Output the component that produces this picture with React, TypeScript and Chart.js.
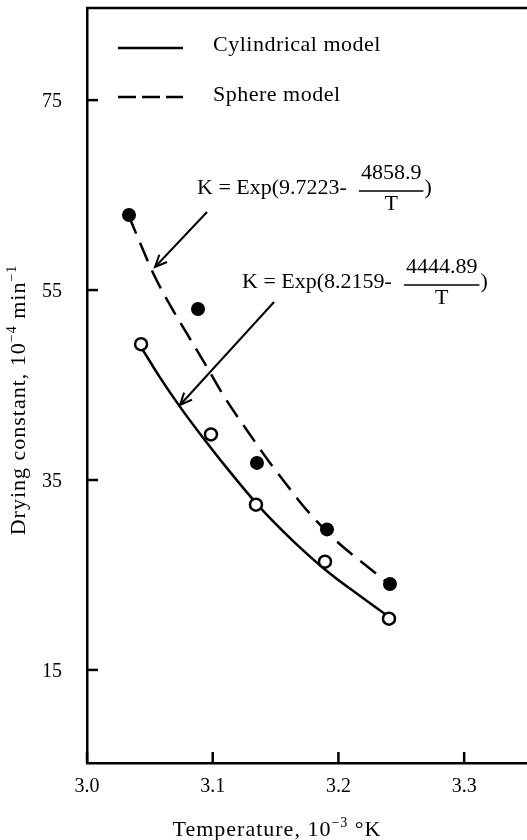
import React, { useEffect, useRef } from "react";
import { Chart, registerables } from "chart.js";

Chart.register(...registerables);

// ---- data ----
const X_TICKS = [3.0, 3.1, 3.2, 3.3];
const Y_TICKS = [15, 35, 55, 75];

const CYL_POINTS_X = [3.043, 3.0986, 3.1344, 3.1893, 3.2402];
const CYL_POINTS_Y = [49.3, 39.8, 32.4, 26.4, 20.4];

const SPH_POINTS_X = [3.0334, 3.0883, 3.1352, 3.1909, 3.241];
const SPH_POINTS_Y = [62.9, 53.0, 36.8, 29.8, 24.05];

const CYL_CURVE_X = [3.043, 3.058, 3.074, 3.092, 3.111, 3.137, 3.163, 3.19, 3.217, 3.24];
const CYL_CURVE_Y = [49.0, 45.8, 42.7, 39.5, 36.3, 32.2, 28.7, 25.5, 22.8, 20.6];

const SPH_CURVE_X = [3.033, 3.044, 3.054, 3.067, 3.08, 3.094, 3.11, 3.129, 3.145, 3.16, 3.175, 3.199, 3.221, 3.24];
const SPH_CURVE_Y = [62.9, 59.4, 56.4, 53.2, 50.3, 47.2, 43.6, 39.9, 36.9, 34.3, 31.8, 28.5, 26.1, 24.1];

const LEGEND_LABELS = ["Cylindrical model", "Sphere model"];

// annotations (data coordinates)
const EQ_LEADS = ["K = Exp(9.7223-", "K = Exp(8.2159-"];
const EQ_NUMS = ["4858.9", "4444.89"];
const EQ_ANCHOR_X = [3.0875, 3.1233];
const EQ_ANCHOR_Y = [65.75, 55.85];
const ARROW_FROM_X = [3.0955, 3.1488];
const ARROW_FROM_Y = [63.22, 53.74];
const ARROW_TO_X = [3.0541, 3.074];
const ARROW_TO_Y = [57.43, 42.9];

const X_MIN = 3.0;
const X_MAX = 3.35;
const Y_MIN = 5.2;
const Y_MAX = 84.7;

const FONT = '"Liberation Serif", "DejaVu Serif", serif';

const zip = (xs: number[], ys: number[]) => xs.map((x, i) => ({ x, y: ys[i] }));

type Part = { t: string; sup?: boolean };

function setSpacing(ctx: any, px: number) {
  if ("letterSpacing" in ctx) ctx.letterSpacing = `${px}px`;
}

function richWidth(ctx: CanvasRenderingContext2D, parts: Part[], size: number, supSize: number) {
  let w = 0;
  for (const p of parts) {
    ctx.font = `${p.sup ? supSize : size}px ${FONT}`;
    w += ctx.measureText(p.t).width;
  }
  return w;
}

function drawRich(
  ctx: CanvasRenderingContext2D,
  parts: Part[],
  x: number,
  y: number,
  size: number,
  supSize: number,
  raise: number
) {
  let cx = x;
  ctx.textAlign = "left";
  ctx.textBaseline = "alphabetic";
  for (const p of parts) {
    ctx.font = `${p.sup ? supSize : size}px ${FONT}`;
    ctx.fillText(p.t, cx, p.sup ? y - raise : y);
    cx += ctx.measureText(p.t).width;
  }
}

const decorPlugin = {
  id: "decor",
  afterDraw(chart: any) {
    const ctx: CanvasRenderingContext2D = chart.ctx;
    const { left, top, bottom } = chart.chartArea;
    const xs = chart.scales.x;
    const ys = chart.scales.y;
    ctx.save();
    ctx.strokeStyle = "#000";
    ctx.fillStyle = "#000";

    // top frame line
    ctx.lineWidth = 2.5;
    ctx.beginPath();
    ctx.moveTo(left - 1, top);
    ctx.lineTo(chart.width, top);
    ctx.stroke();

    // inward tick marks + tick labels
    ctx.lineWidth = 2.5;
    ctx.font = `20px ${FONT}`;
    X_TICKS.forEach((v) => {
      const px = xs.getPixelForValue(v);
      ctx.beginPath();
      ctx.moveTo(px, bottom);
      ctx.lineTo(px, bottom - 11);
      ctx.stroke();
      ctx.textAlign = "center";
      ctx.textBaseline = "alphabetic";
      ctx.fillText(v.toFixed(1), px, bottom + 29);
    });
    Y_TICKS.forEach((v) => {
      const py = ys.getPixelForValue(v);
      ctx.beginPath();
      ctx.moveTo(left, py);
      ctx.lineTo(left + 11, py);
      ctx.stroke();
      ctx.textAlign = "right";
      ctx.textBaseline = "alphabetic";
      ctx.fillText(String(v), left - 25, py + 7);
    });

    // legend
    ctx.lineWidth = 2.5;
    ctx.setLineDash([]);
    ctx.beginPath();
    ctx.moveTo(118, 48);
    ctx.lineTo(183, 48);
    ctx.stroke();
    ctx.setLineDash([18, 6]);
    ctx.beginPath();
    ctx.moveTo(118, 97);
    ctx.lineTo(183, 97);
    ctx.stroke();
    ctx.setLineDash([]);
    ctx.font = `22px ${FONT}`;
    setSpacing(ctx, 0.5);
    ctx.textAlign = "left";
    ctx.textBaseline = "alphabetic";
    ctx.fillText(LEGEND_LABELS[0], 213, 51);
    ctx.fillText(LEGEND_LABELS[1], 213, 101);
    setSpacing(ctx, 0);

    // equations
    for (let i = 0; i < EQ_LEADS.length; i++) {
      const ax = xs.getPixelForValue(EQ_ANCHOR_X[i]);
      const ay = ys.getPixelForValue(EQ_ANCHOR_Y[i]);
      ctx.font = `22px ${FONT}`;
      ctx.textAlign = "left";
      ctx.textBaseline = "middle";
      ctx.fillText(EQ_LEADS[i], ax, ay);
      const lw = ctx.measureText(EQ_LEADS[i]).width;
      const fl = ax + lw + 12;
      const nw = ctx.measureText(EQ_NUMS[i]).width;
      const bw = nw + 4;
      ctx.lineWidth = 1.5;
      ctx.beginPath();
      ctx.moveTo(fl, ay + 3);
      ctx.lineTo(fl + bw, ay + 3);
      ctx.stroke();
      ctx.textAlign = "center";
      ctx.fillText(EQ_NUMS[i], fl + bw / 2, ay - 15);
      ctx.fillText("T", fl + bw / 2, ay + 16);
      ctx.textAlign = "left";
      ctx.fillText(")", fl + bw + 1, ay);
    }

    // arrows
    ctx.lineWidth = 2;
    for (let i = 0; i < ARROW_FROM_X.length; i++) {
      const x1 = xs.getPixelForValue(ARROW_FROM_X[i]);
      const y1 = ys.getPixelForValue(ARROW_FROM_Y[i]);
      const x2 = xs.getPixelForValue(ARROW_TO_X[i]);
      const y2 = ys.getPixelForValue(ARROW_TO_Y[i]);
      ctx.beginPath();
      ctx.moveTo(x1, y1);
      ctx.lineTo(x2, y2);
      ctx.stroke();
      const ang = Math.atan2(y2 - y1, x2 - x1);
      const hl = 13;
      const spread = 0.42;
      ctx.beginPath();
      ctx.moveTo(x2 - hl * Math.cos(ang - spread), y2 - hl * Math.sin(ang - spread));
      ctx.lineTo(x2, y2);
      ctx.lineTo(x2 - hl * Math.cos(ang + spread), y2 - hl * Math.sin(ang + spread));
      ctx.stroke();
    }

    // x axis title
    setSpacing(ctx, 1);
    const xParts: Part[] = [{ t: "Temperature, 10" }, { t: "\u2212" + "3", sup: true }, { t: " \u00B0K" }];
    const xw = richWidth(ctx, xParts, 22, 14);
    drawRich(ctx, xParts, 277 - xw / 2, 836, 22, 14, 9);

    // y axis title (rotated)
    const yParts: Part[] = [
      { t: "Drying constant, 10" },
      { t: "\u22124", sup: true },
      { t: " min" },
      { t: "\u22121", sup: true },
    ];
    const yw = richWidth(ctx, yParts, 22, 14);
    ctx.save();
    ctx.translate(25, 400);
    ctx.rotate(-Math.PI / 2);
    drawRich(ctx, yParts, -yw / 2, 0, 22, 14, 9);
    ctx.restore();
    setSpacing(ctx, 0);

    ctx.restore();
  },
};

export default function App() {
  const ref = useRef<HTMLCanvasElement | null>(null);

  useEffect(() => {
    document.body.style.margin = "0";
    const canvas = ref.current;
    if (!canvas) return;
    const chart = new Chart(canvas, {
      type: "scatter",
      data: {
        datasets: [
          {
            label: "Cylindrical points",
            data: zip(CYL_POINTS_X, CYL_POINTS_Y),
            pointRadius: 6,
            pointBorderWidth: 2.5,
            pointBackgroundColor: "#fff",
            pointBorderColor: "#000",
            showLine: false,
            order: 0,
          },
          {
            label: "Sphere points",
            data: zip(SPH_POINTS_X, SPH_POINTS_Y),
            pointRadius: 7,
            pointBorderWidth: 0,
            pointBackgroundColor: "#000",
            pointBorderColor: "#000",
            showLine: false,
            order: 0,
          },
          {
            label: "Cylindrical model",
            data: zip(CYL_CURVE_X, CYL_CURVE_Y),
            showLine: true,
            borderColor: "#000",
            borderWidth: 2.5,
            pointRadius: 0,
            cubicInterpolationMode: "monotone",
            order: 1,
          },
          {
            label: "Sphere model",
            data: zip(SPH_CURVE_X, SPH_CURVE_Y),
            showLine: true,
            borderColor: "#000",
            borderWidth: 2.5,
            borderDash: [20, 10],
            pointRadius: 0,
            cubicInterpolationMode: "monotone",
            order: 1,
          },
        ] as any,
      },
      options: {
        animation: false,
        responsive: false,
        maintainAspectRatio: false,
        layout: { autoPadding: false, padding: { top: 8, right: 0, left: 0, bottom: 0 } },
        plugins: {
          legend: { display: false },
          tooltip: { enabled: false },
          title: { display: false },
        },
        scales: {
          x: {
            type: "linear",
            min: X_MIN,
            max: X_MAX,
            afterBuildTicks: (s: any) => {
              s.ticks = X_TICKS.map((v) => ({ value: v }));
            },
            afterFit: (s: any) => {
              s.height = 77;
            },
            ticks: { display: false },
            grid: { display: true, drawOnChartArea: false, drawTicks: false },
            border: { display: true, color: "#000", width: 2.5 },
          },
          y: {
            type: "linear",
            min: Y_MIN,
            max: Y_MAX,
            afterBuildTicks: (s: any) => {
              s.ticks = Y_TICKS.map((v) => ({ value: v }));
            },
            afterFit: (s: any) => {
              s.width = 87;
            },
            ticks: { display: false },
            grid: { display: true, drawOnChartArea: false, drawTicks: false },
            border: { display: true, color: "#000", width: 2.5 },
          },
        },
      },
      plugins: [decorPlugin],
    });
    return () => chart.destroy();
  }, []);

  return (
    <div style={{ width: 527, height: 840, position: "relative" }}>
      <canvas ref={ref} width={527} height={840} style={{ display: "block", width: 527, height: 840 }} />
    </div>
  );
}
